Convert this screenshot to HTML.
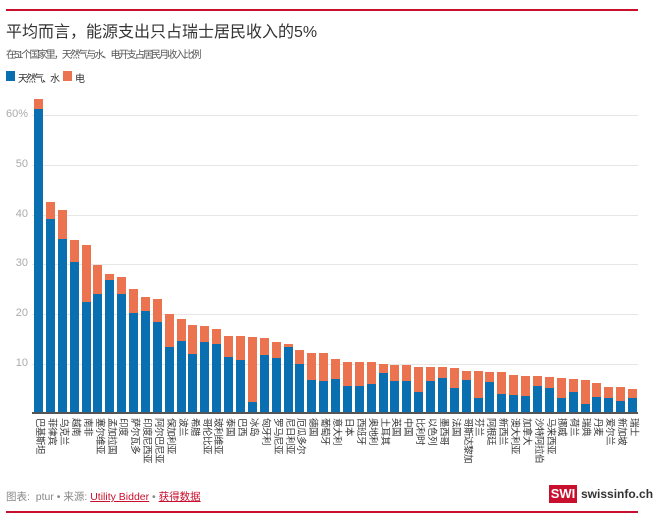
<!DOCTYPE html>
<html><head><meta charset="utf-8"><style>
body{margin:0;width:660px;height:522px;background:#fff;font-family:"Liberation Sans","Noto Sans CJK SC",sans-serif;position:relative;overflow:hidden}
.abs{position:absolute}
.line{position:absolute;left:6px;width:632px;height:2px;background:#c8102e}
.grid{position:absolute;left:32px;width:606px;height:1px;background:#e6e6e6}
.yl{position:absolute;right:632px;font-size:11px;color:#aaa;text-align:right}
.bar{position:absolute;width:9px;bottom:109px}
.bar .o{background:#ec7350}
.bar .b{background:#0a6fb0}
.lab{position:absolute;top:418px;width:12px;writing-mode:vertical-rl;text-orientation:sideways;font-size:9.5px;line-height:12px;color:#333;letter-spacing:-0.5px}
</style></head><body>
<div class="line" style="top:9px"></div>
<div class="abs" style="left:6px;top:18px;font-size:16px;color:#333">平均而言，能源支出只占瑞士居民收入的5%</div>
<div class="abs" style="left:6px;top:46px;font-size:10px;color:#555;letter-spacing:-1.9px">在51个国家里，天然气与水、电开支占居民月收入比例</div>
<div class="abs" style="left:6px;top:71px;width:9px;height:10px;background:#0a6fb0"></div>
<div class="abs" style="left:18px;top:70px;font-size:10px;color:#333;letter-spacing:-2px">天然气、水</div>
<div class="abs" style="left:63px;top:71px;width:9px;height:10px;background:#ec7350"></div>
<div class="abs" style="left:75px;top:70px;font-size:10px;color:#333">电</div>

<div class="grid" style="top:115px"></div><div class="yl" style="top:108px">60%</div>
<div class="grid" style="top:165px"></div><div class="yl" style="top:158px">50</div>
<div class="grid" style="top:215px"></div><div class="yl" style="top:208px">40</div>
<div class="grid" style="top:264px"></div><div class="yl" style="top:257px">30</div>
<div class="grid" style="top:314px"></div><div class="yl" style="top:307px">20</div>
<div class="grid" style="top:364px"></div><div class="yl" style="top:357px">10</div>

<div id="bars"></div>
<div class="abs" style="left:32px;top:412px;width:606px;height:2px;background:#555"></div>

<div class="lab" style="left:33px">巴基斯坦</div><div class="lab" style="left:45px">菲律宾</div><div class="lab" style="left:57px">乌克兰</div><div class="lab" style="left:69px">越南</div><div class="lab" style="left:81px">南非</div><div class="lab" style="left:93px">塞尔维亚</div><div class="lab" style="left:105px">孟加拉国</div><div class="lab" style="left:116px">印度</div><div class="lab" style="left:128px">萨尔瓦多</div><div class="lab" style="left:140px">印度尼西亚</div><div class="lab" style="left:152px">阿尔巴尼亚</div><div class="lab" style="left:164px">保加利亚</div><div class="lab" style="left:176px">波兰</div><div class="lab" style="left:188px">希腊</div><div class="lab" style="left:200px">哥伦比亚</div><div class="lab" style="left:211px">玻利维亚</div><div class="lab" style="left:223px">泰国</div><div class="lab" style="left:235px">巴西</div><div class="lab" style="left:247px">冰岛</div><div class="lab" style="left:259px">匈牙利</div><div class="lab" style="left:271px">罗马尼亚</div><div class="lab" style="left:283px">尼日利亚</div><div class="lab" style="left:294px">厄瓜多尔</div><div class="lab" style="left:306px">德国</div><div class="lab" style="left:318px">葡萄牙</div><div class="lab" style="left:330px">意大利</div><div class="lab" style="left:342px">日本</div><div class="lab" style="left:354px">西班牙</div><div class="lab" style="left:366px">奥地利</div><div class="lab" style="left:378px">土耳其</div><div class="lab" style="left:389px">英国</div><div class="lab" style="left:401px">中国</div><div class="lab" style="left:413px">比利时</div><div class="lab" style="left:425px">以色列</div><div class="lab" style="left:437px">墨西哥</div><div class="lab" style="left:449px">法国</div><div class="lab" style="left:461px">哥斯达黎加</div><div class="lab" style="left:472px">芬兰</div><div class="lab" style="left:484px">阿根廷</div><div class="lab" style="left:496px">新西兰</div><div class="lab" style="left:508px">澳大利亚</div><div class="lab" style="left:520px">加拿大</div><div class="lab" style="left:532px">沙特阿拉伯</div><div class="lab" style="left:544px">马来西亚</div><div class="lab" style="left:555px">挪威</div><div class="lab" style="left:567px">荷兰</div><div class="lab" style="left:579px">瑞典</div><div class="lab" style="left:591px">丹麦</div><div class="lab" style="left:603px">爱尔兰</div><div class="lab" style="left:615px">新加坡</div><div class="lab" style="left:627px">瑞士</div>

<div class="abs" style="left:6px;top:489px;font-size:10.5px;color:#888">图表:&nbsp; ptur • 来源: <span style="color:#c8102e;text-decoration:underline">Utility Bidder</span> • <span style="color:#c8102e;text-decoration:underline">获得数据</span></div>
<div class="abs" style="left:549px;top:485px;width:28px;height:18px;background:#c8102e;color:#fff;font-weight:bold;font-size:13px;line-height:18px;text-align:center">SWI</div>
<div class="abs" style="left:581px;top:485px;font-size:12px;font-weight:bold;color:#333;line-height:18px">swissinfo.ch</div>
<div class="line" style="top:511px"></div>
<script>
var d=[[61,63],[39,42.3],[35,40.8],[30.2,34.7],[22.2,33.8],[23.8,29.6],[26.6,27.8],[23.8,27.3],[20.1,24.9],[20.4,23.2],[18.3,22.9],[13.3,19.8],[14.4,18.9],[11.8,17.6],[14.2,17.5],[13.9,16.8],[11.3,15.5],[10.6,15.4],[2.2,15.2],[11.6,15],[11.1,14.2],[13.2,13.8],[9.9,12.6],[6.7,12.1],[6.4,12],[6.8,10.8],[5.5,10.3],[5.5,10.3],[5.8,10.2],[8.1,9.9],[6.4,9.7],[6.4,9.6],[4.2,9.3],[6.5,9.3],[7,9.2],[5,9],[6.6,8.4],[3,8.4],[6.2,8.2],[3.9,8.2],[3.6,7.6],[3.5,7.5],[5.4,7.5],[5.1,7.3],[3,7],[4.3,6.8],[1.8,6.7],[3.3,6],[3.1,5.3],[2.5,5.3],[3.1,4.9]];
var h='',k=4.986;
d.forEach(function(v,i){var x=34+i*11.88;h+='<div class="bar" style="left:'+x.toFixed(1)+'px"><div class="o" style="height:'+((v[1]-v[0])*k).toFixed(1)+'px"></div><div class="b" style="height:'+(v[0]*k).toFixed(1)+'px"></div></div>';});
document.getElementById('bars').innerHTML=h;
</script>
</body></html>
